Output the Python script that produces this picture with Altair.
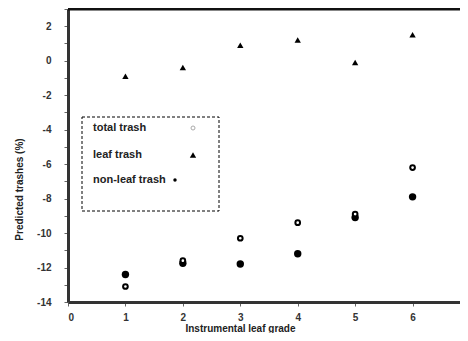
import altair as alt
import pandas as pd

grades = [1, 2, 3, 4, 5, 6]
total_trash = [-13.1, -11.6, -10.3, -9.4, -8.9, -6.2]
leaf_trash = [-0.9, -0.4, 0.9, 1.2, -0.1, 1.5]
nonleaf_trash = [-12.4, -11.75, -11.8, -11.2, -9.1, -7.9]
legend_labels = ["total trash", "leaf trash", "non-leaf trash"]
x_ticks = [0, 1, 2, 3, 4, 5, 6, 7]
y_ticks = list(range(-14, 4))
x_title = "Instrumental leaf grade"
y_title = "Predicted trashes (%)"

rows = []
for g, t, l, n in zip(grades, total_trash, leaf_trash, nonleaf_trash):
    rows.append({"grade": g, "series": "total", "value": t})
    rows.append({"grade": g, "series": "leaf", "value": l})
    rows.append({"grade": g, "series": "nonleaf", "value": n})
df = pd.DataFrame(rows)

FONT = "Liberation Sans"
PLOT_W = 392   # visible plot width (svg is clipped at the window edge)
RANGE_W = 402  # x scale extends slightly past the visible area, as in the reference

x_enc = alt.X(
    "grade:Q",
    scale=alt.Scale(domain=[0, 7], nice=False, zero=False, range=[0, RANGE_W]),
    axis=alt.Axis(
        values=x_ticks, title=x_title, grid=False,
        labelExpr="toString(datum.value)",
        tickSize=4, labelPadding=6, titleX=172, titleY=29, titleBaseline="alphabetic",
    ),
)
y_enc = alt.Y(
    "value:Q",
    scale=alt.Scale(domain=[-14, 3], nice=False, zero=False),
    axis=alt.Axis(
        values=y_ticks, title=y_title, grid=False,
        labelExpr="datum.value % 2 == 0 ? toString(datum.value) : ''",
        tickSize=4, labelPadding=13, titleX=-49, titleY=180, titleBaseline="middle",
    ),
)

base = alt.Chart(df)

nonleaf = base.transform_filter(alt.datum.series == "nonleaf").mark_point(
    shape="circle", filled=True, color="black", size=55, opacity=1
).encode(x=x_enc, y=y_enc)

total = base.transform_filter(alt.datum.series == "total").mark_point(
    shape="circle", filled=False, stroke="black", fill="white", fillOpacity=1,
    strokeWidth=2, size=22, opacity=1
).encode(x=x_enc, y=y_enc)

leaf = base.transform_filter(alt.datum.series == "leaf").mark_point(
    shape="triangle-up", filled=True, color="black", size=40, opacity=1
).encode(x=x_enc, y=y_enc)

one = pd.DataFrame({"a": [0]})

top_line = alt.Chart(one).mark_rule(color="#111", strokeWidth=3).encode(
    x=alt.value(0), x2=alt.value(RANGE_W), y=alt.value(0)
)

legend_box = alt.Chart(one).mark_rect(
    fill=None, fillOpacity=0, stroke="black", strokeWidth=1, strokeDash=[3, 2]
).encode(x=alt.value(14), x2=alt.value(151), y=alt.value(108), y2=alt.value(202))


def legend_text(i, ypix):
    return alt.Chart(pd.DataFrame({"label": [legend_labels[i]]})).mark_text(
        align="left", baseline="middle", font=FONT, fontSize=11, fontWeight="bold", color="#222"
    ).encode(text="label:N", x=alt.value(25), y=alt.value(ypix))


leg_sym_total = alt.Chart(one).mark_point(
    shape="circle", filled=False, stroke="#aaa", strokeWidth=1, size=16, opacity=1
).encode(x=alt.value(125), y=alt.value(119))
leg_sym_leaf = alt.Chart(one).mark_point(
    shape="triangle-up", filled=True, color="black", size=40, opacity=1
).encode(x=alt.value(125), y=alt.value(146))
leg_sym_nonleaf = alt.Chart(one).mark_point(
    shape="circle", filled=True, color="black", size=12, opacity=1
).encode(x=alt.value(107), y=alt.value(171))

chart = alt.layer(
    nonleaf, total, leaf, top_line, legend_box,
    legend_text(0, 119), legend_text(1, 146), legend_text(2, 171),
    leg_sym_total, leg_sym_leaf, leg_sym_nonleaf,
).properties(
    width=PLOT_W, height=293,
    autosize=alt.AutoSizeParams(type="none"),
    padding={"left": 60, "top": 1, "right": 0, "bottom": 31},
).configure_view(stroke=None).configure_axis(
    domainColor="#333", domainWidth=3, tickColor="#666", tickWidth=1,
    labelFont=FONT, labelFontSize=10, labelFontWeight="bold", labelColor="#333",
    titleFont=FONT, titleFontSize=10, titleFontWeight="bold", titleColor="#222",
)

chart.save("out.html", embed_options={"renderer": "svg", "actions": False})
